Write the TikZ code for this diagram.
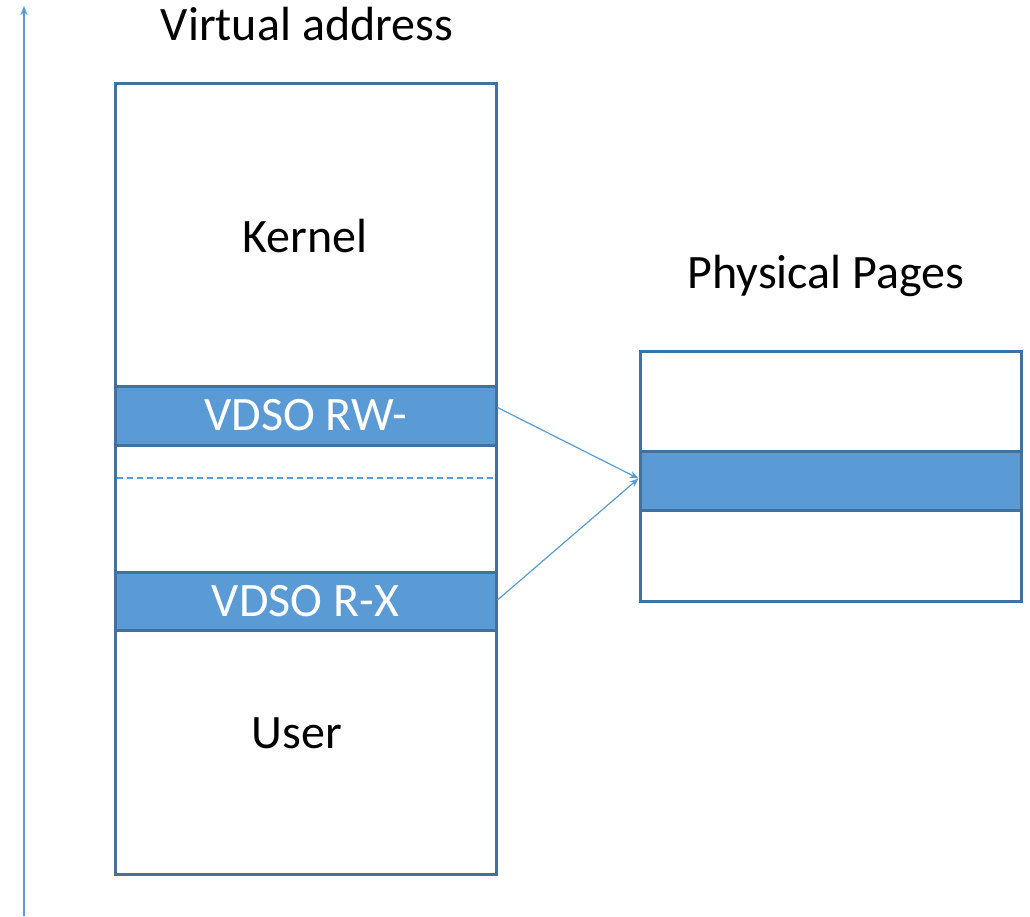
\documentclass[tikz,border=0pt]{standalone}
\usepackage{fontspec}
\setmainfont{Carlito}
\usetikzlibrary{arrows.meta}
\definecolor{bandblue}{HTML}{5B9BD5}
\definecolor{edgeblue}{HTML}{41719C}
\tikzset{
  region/.style={draw=edgeblue, line width=3pt, fill=white, inner sep=0pt},
  band/.style={draw=edgeblue, line width=3pt, fill=bandblue, inner sep=0pt,
    text=white, font=\fontsize{48}{52}\selectfont},
  label/.style={text=black, font=\fontsize{48}{52}\selectfont, inner sep=0pt},
  mapping/.style={draw=bandblue, line width=1.2pt, -{Stealth[length=9pt,width=7pt]}},
}
\begin{document}
\begin{tikzpicture}[x=1pt, y=-1pt]
  \useasboundingbox (0,0) rectangle (1030,916);

  % address axis
  \coordinate (axisbot) at (24,916);
  \coordinate (axistop) at (24,6);
  \draw[draw=bandblue, line width=1.8pt, -{Stealth[length=9pt,width=7pt]}] (axisbot) -- (axistop);

  % virtual address space
  \node[region, minimum width=381pt, minimum height=791pt] (vas) at (305.5,478.5) {};
  \node[band, minimum width=381pt, minimum height=59pt] (rw) at (305.5,415.5) {VDSO RW-};
  \node[band, minimum width=381pt, minimum height=58pt] (rx) at (305.5,601) {VDSO R-X};
  \coordinate (dashl) at (117,478);
  \coordinate (dashr) at (494,478);
  \draw[draw=bandblue, line width=1.2pt, dash pattern=on 6pt off 4pt] (dashl) -- (dashr);

  \node[label] (kernel) at (305,236) {Kernel};
  \node[label] (user) at (297,733) {User};
  \node[label] (vtitle) at (307,24) {Virtual address};

  % physical pages
  \node[region, minimum width=381pt, minimum height=250pt] (phys) at (830.5,476) {};
  \node[band, minimum width=381pt, minimum height=59pt] (ppage) at (830.5,480.5) {};
  \node[label] (ptitle) at (826,276) {Physical Pages};

  % mappings
  \draw[mapping] ([yshift=8pt]rw.east) -- ([yshift=2pt]ppage.west);
  \draw[mapping] ([yshift=1pt]rx.east) -- ([yshift=2pt]ppage.west);
\end{tikzpicture}
\end{document}
